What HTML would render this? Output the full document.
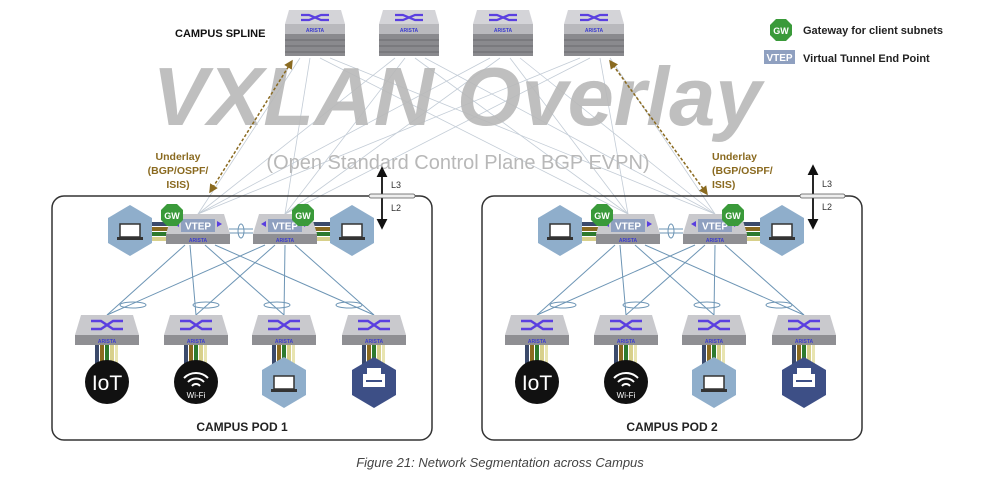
<!DOCTYPE html>
<html><head><meta charset="utf-8"><style>
html,body{margin:0;padding:0;background:#fff;}
svg{display:block;font-family:"Liberation Sans",sans-serif;}
</style></head><body>
<svg width="987" height="499" viewBox="0 0 987 499" xmlns="http://www.w3.org/2000/svg">
<defs>
  <g id="spine">
    <polygon points="-26,0 26,0 30,14 -30,14" fill="#d4d4d8"/>
    <path d="M-14,5 L-6,5 L6,10 L14,10 M-14,10 L-6,10 L6,5 L14,5" stroke="#5a3fe0" stroke-width="2.2" fill="none"/>
    <rect x="-30" y="14" width="60" height="10" fill="#b9b9bd"/>
    <text x="0" y="22" font-size="5" font-weight="bold" fill="#3b3bd0" text-anchor="middle">ARISTA</text>
    <rect x="-30" y="24" width="60" height="22" fill="#8a8a8e"/>
    <g stroke="#6a6a6e" stroke-width="1"><line x1="-30" y1="30" x2="30" y2="30"/><line x1="-30" y1="36" x2="30" y2="36"/><line x1="-30" y1="42" x2="30" y2="42"/></g>
  </g>
  <g id="acc">
    <polygon points="-26,0 26,0 32,20 -32,20" fill="#c9c9cd"/>
    <path d="M-16,6 L-6,6 L6,14 L16,14 M-16,14 L-6,14 L6,6 L16,6" stroke="#5a3fe0" stroke-width="2.4" fill="none"/>
    <rect x="-32" y="20" width="64" height="10" fill="#8f8f93"/>
    <text x="0" y="28" font-size="5" font-weight="bold" fill="#3b3bd0" text-anchor="middle">ARISTA</text>
  </g>
  <g id="vtep">
    <polygon points="-26,0 26,0 32,20 -32,20" fill="#c9c9cd"/>
    <rect x="-17" y="5" width="34" height="13" fill="#8fa0c0"/>
    <text x="0" y="15.5" font-size="10" font-weight="bold" fill="#fff" text-anchor="middle">VTEP</text>
    <path d="M-24,10 l5,-3 v6z M24,10 l-5,-3 v6z" fill="#5a3fe0"/>
    <rect x="-32" y="20" width="64" height="10" fill="#8f8f93"/>
    <text x="0" y="28" font-size="5" font-weight="bold" fill="#3b3bd0" text-anchor="middle">ARISTA</text>
  </g>
  <g id="hex">
    <polygon points="0,-25 22,-12 22,13 0,26 -22,13 -22,-12" fill="#8faecb"/>
    <rect x="-10" y="-6" width="20" height="13" fill="#fff" stroke="#333" stroke-width="1.5"/>
    <rect x="-13" y="7" width="26" height="3" fill="#333"/>
  </g>
  <g id="gw">
    <polygon points="-5,-11 5,-11 11,-5 11,5 5,11 -5,11 -11,5 -11,-5" fill="#3a9a3a"/>
    <text x="0" y="4" font-size="9" font-weight="bold" fill="#fff" text-anchor="middle">GW</text>
  </g>
  <g id="cab">
    <rect x="-12" y="0" width="4" height="28" fill="#3b4a6b"/>
    <rect x="-7" y="0" width="4" height="28" fill="#8a6a20"/>
    <rect x="-2" y="0" width="4" height="28" fill="#2e7a2e"/>
    <rect x="3" y="0" width="4" height="28" fill="#d8d08a"/>
    <rect x="8" y="0" width="3" height="28" fill="#e8e4b0"/>
  </g>
  <g id="hcab">
    <rect x="0" y="-8" width="30" height="4" fill="#3b4a6b"/>
    <rect x="0" y="-3" width="30" height="4" fill="#8a6a20"/>
    <rect x="0" y="2" width="30" height="4" fill="#2e7a2e"/>
    <rect x="0" y="7" width="30" height="4" fill="#d8d08a"/>
  </g>
  <g id="pod">
    <rect x="52" y="196" width="380" height="244" rx="12" fill="none" stroke="#333" stroke-width="1.5"/>
    <g stroke="#6d95b5" stroke-width="1" fill="none">
      <line x1="185" y1="245" x2="107" y2="315"/><line x1="190" y1="245" x2="196" y2="315"/>
      <line x1="205" y1="245" x2="284" y2="315"/><line x1="215" y1="245" x2="374" y2="315"/>
      <line x1="265" y1="245" x2="107" y2="315"/><line x1="275" y1="245" x2="196" y2="315"/>
      <line x1="285" y1="245" x2="284" y2="315"/><line x1="295" y1="245" x2="374" y2="315"/>
      <ellipse cx="133" cy="305" rx="13" ry="3"/><ellipse cx="206" cy="305" rx="13" ry="3"/>
      <ellipse cx="277" cy="305" rx="13" ry="3"/><ellipse cx="349" cy="305" rx="13" ry="3"/>
      <line x1="229" y1="229" x2="253" y2="229"/><line x1="229" y1="233" x2="253" y2="233"/>
      <ellipse cx="241" cy="231" rx="3" ry="7"/>
    </g>
    <use href="#hcab" x="140" y="230"/>
    <g transform="translate(342,230) scale(-1,1)"><use href="#hcab"/></g>
    <use href="#hex" x="130" y="230"/>
    <use href="#hex" x="352" y="230"/>
    <use href="#vtep" x="198" y="214"/>
    <use href="#vtep" x="285" y="214"/>
    <use href="#gw" x="172" y="215"/>
    <use href="#gw" x="303" y="215"/>
    <use href="#cab" x="107" y="345"/><use href="#cab" x="196" y="345"/>
    <use href="#cab" x="284" y="345"/><use href="#cab" x="374" y="345"/>
    <use href="#acc" x="107" y="315"/><use href="#acc" x="196" y="315"/>
    <use href="#acc" x="284" y="315"/><use href="#acc" x="374" y="315"/>
    <circle cx="107" cy="382" r="22" fill="#111"/>
    <text x="107" y="390" font-size="21" fill="#fff" text-anchor="middle">IoT</text>
    <circle cx="196" cy="382" r="22" fill="#111"/>
    <path d="M184,378 a17,17 0 0 1 24,0 M188,382 a11,11 0 0 1 16,0 M192,386 a5,5 0 0 1 8,0" stroke="#fff" stroke-width="2" fill="none"/>
    <text x="196" y="398" font-size="8" fill="#fff" text-anchor="middle">Wi-Fi</text>
    <use href="#hex" x="284" y="382"/>
    <polygon points="374,357 396,370 396,395 374,408 352,395 352,370" fill="#3d4f86"/>
    <rect x="363" y="374" width="22" height="13" fill="#fff"/><rect x="367" y="368" width="14" height="6" fill="#fff"/>
    <rect x="366" y="380" width="16" height="2" fill="#3d4f86"/>
  </g>
  <marker id="ah" markerWidth="6" markerHeight="6" refX="5" refY="3" orient="auto-start-reverse"><path d="M0,0 L6,3 L0,6z" fill="#8a6a20"/></marker>
  <marker id="bk" markerWidth="6" markerHeight="6" refX="5" refY="3" orient="auto-start-reverse"><path d="M0,0 L6,3 L0,6z" fill="#111"/></marker>
</defs>

<g stroke="#c3ccd6" stroke-width="0.8">
  <line x1="300" y1="58" x2="198" y2="214"/><line x1="310" y1="58" x2="285" y2="214"/><line x1="320" y1="58" x2="628" y2="214"/><line x1="330" y1="58" x2="715" y2="214"/>
  <line x1="395" y1="58" x2="198" y2="214"/><line x1="405" y1="58" x2="285" y2="214"/><line x1="415" y1="58" x2="628" y2="214"/><line x1="425" y1="58" x2="715" y2="214"/>
  <line x1="490" y1="58" x2="198" y2="214"/><line x1="500" y1="58" x2="285" y2="214"/><line x1="510" y1="58" x2="628" y2="214"/><line x1="520" y1="58" x2="715" y2="214"/>
  <line x1="580" y1="58" x2="198" y2="214"/><line x1="590" y1="58" x2="285" y2="214"/><line x1="600" y1="58" x2="628" y2="214"/><line x1="610" y1="58" x2="715" y2="214"/>
</g>

<text x="457" y="125" font-size="83" font-weight="bold" font-style="italic" fill="#b8b8b8" fill-opacity="0.9" text-anchor="middle">VXLAN Overlay</text>
<text x="458" y="169" font-size="20" fill="#b8b8b8" text-anchor="middle">(Open Standard Control Plane BGP EVPN)</text>

<use href="#spine" x="315" y="10"/>
<use href="#spine" x="409" y="10"/>
<use href="#spine" x="503" y="10"/>
<use href="#spine" x="594" y="10"/>
<text x="175" y="37" font-size="11" font-weight="bold" fill="#111">CAMPUS SPLINE</text>

<use href="#gw" x="781" y="30"/>
<text x="803" y="34" font-size="11" font-weight="bold" fill="#222">Gateway for client subnets</text>
<rect x="764" y="50" width="31" height="14" fill="#8fa0c0"/>
<text x="779.5" y="61" font-size="10" font-weight="bold" fill="#fff" text-anchor="middle">VTEP</text>
<text x="803" y="62" font-size="11" font-weight="bold" fill="#222">Virtual Tunnel End Point</text>

<g font-size="10.5" font-weight="bold" fill="#8a6a20">
  <text x="178" y="160" text-anchor="middle">Underlay</text>
  <text x="178" y="174" text-anchor="middle">(BGP/OSPF/</text>
  <text x="178" y="188" text-anchor="middle">ISIS)</text>
  <text x="712" y="160">Underlay</text>
  <text x="712" y="174">(BGP/OSPF/</text>
  <text x="712" y="188">ISIS)</text>
</g>
<line x1="210" y1="192" x2="292" y2="61" stroke="#8a6a20" stroke-width="1.5" stroke-dasharray="3,2" marker-start="url(#ah)" marker-end="url(#ah)"/>
<line x1="610" y1="61" x2="707" y2="194" stroke="#8a6a20" stroke-width="1.5" stroke-dasharray="3,2" marker-start="url(#ah)" marker-end="url(#ah)"/>

<use href="#pod"/>
<use href="#pod" x="430"/>
<text x="242" y="431" font-size="12" font-weight="bold" fill="#222" text-anchor="middle">CAMPUS POD 1</text>
<text x="672" y="431" font-size="12" font-weight="bold" fill="#222" text-anchor="middle">CAMPUS POD 2</text>

<g>
  <line x1="382" y1="168" x2="382" y2="228" stroke="#111" stroke-width="1.8" marker-start="url(#bk)" marker-end="url(#bk)"/>
  <rect x="369" y="194" width="46" height="4" rx="2" fill="#eee" stroke="#555" stroke-width="0.8"/>
  <text x="391" y="188" font-size="9" fill="#333">L3</text>
  <text x="391" y="211" font-size="9" fill="#333">L2</text>
  <line x1="813" y1="166" x2="813" y2="228" stroke="#111" stroke-width="1.8" marker-start="url(#bk)" marker-end="url(#bk)"/>
  <rect x="800" y="194" width="45" height="4" rx="2" fill="#eee" stroke="#555" stroke-width="0.8"/>
  <text x="822" y="187" font-size="9" fill="#333">L3</text>
  <text x="822" y="210" font-size="9" fill="#333">L2</text>
</g>

<text x="500" y="467" font-size="13" font-style="italic" fill="#444" text-anchor="middle">Figure 21: Network Segmentation across Campus</text>
</svg>
</body></html>
